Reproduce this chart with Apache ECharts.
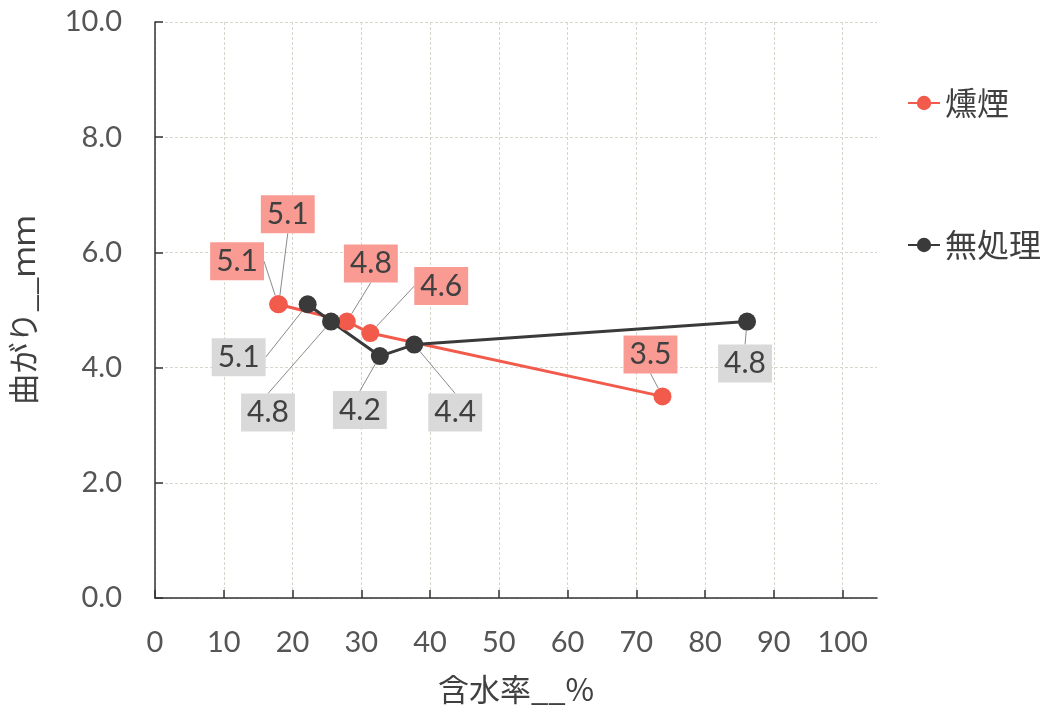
<!DOCTYPE html>
<html><head><meta charset="utf-8">
<script src="https://cdn.jsdelivr.net/npm/echarts@6/dist/echarts.min.js"></script>
<style>html,body{margin:0;padding:0;background:#fff}#c{width:1048px;height:718px}</style>
</head><body><div id="c"></div>
<script>
// data
const seriesNames = ['燻煙', '無処理'];
const smokedX = [17.9, 18.0, 27.9, 31.3, 73.8];
const smokedY = [5.1, 5.1, 4.8, 4.6, 3.5];
const untreatedX = [22.2, 25.6, 32.7, 37.7, 86.1];
const untreatedY = [5.1, 4.8, 4.2, 4.4, 4.8];
const xTicks = [0, 10, 20, 30, 40, 50, 60, 70, 80, 90, 100];
const xName = '含水率__%';
const yName = '曲がり__ｍｍ';

// label placement (pixel offsets from each point)
const smokedOffsets = [[-41, -43], [9, -90], [24, -58], [71, -47], [-12, -42]];
const untreatedOffsets = [[-69, 53], [-63, 91], [-20, 54], [41, 68], [-2, 42]];

const pair = (xs, ys) => xs.map((x, i) => [x, ys[i]]);
const chart = echarts.init(document.getElementById('c'));
const font = '"Liberation Sans Narrow", Lato, "Noto Sans CJK JP", sans-serif';
const cjk = '"Noto Sans CJK JP", sans-serif';

function mkSeries(name, xs, ys, color, bg, offsets) {
  return {
    name, type: 'line', data: pair(xs, ys),
    symbol: 'circle', symbolSize: 18,
    lineStyle: { color, width: 3 },
    itemStyle: { color },
    label: {
      show: true, position: 'inside',
      formatter: p => p.value[1].toFixed(1),
      backgroundColor: bg, color: '#404040',
      fontSize: 30, fontFamily: 'Lato, sans-serif', padding: [5, 6, 3, 6]
    },
    labelLine: { show: true, lineStyle: { color: '#8a8a8a', width: 1 } },
    labelLayout: p => ({ dx: offsets[p.dataIndex][0], dy: offsets[p.dataIndex][1] }),
    z: 3
  };
}

chart.setOption({
  backgroundColor: '#fff',
  animation: false,
  grid: { left: 155, top: 22, right: 171, bottom: 120, containLabel: false, outerBoundsMode: 'none' },
  legend: {
    orient: 'vertical', left: 902, top: 82, itemGap: 110,
    itemWidth: 32, itemHeight: 18,
    textStyle: { fontSize: 32, color: '#404040', fontFamily: cjk },
    data: seriesNames
  },
  xAxis: {
    type: 'value', min: 0, max: 105, interval: 10,
    name: xName, nameLocation: 'middle', nameGap: 76,
    nameTextStyle: { fontSize: 31, color: '#404040', fontFamily: cjk },
    axisLine: { show: true, lineStyle: { color: '#333', width: 1.5 } },
    axisTick: { show: true, inside: true, length: 8, customValues: xTicks, lineStyle: { color: '#333', width: 1.5 } },
    axisLabel: { customValues: xTicks, fontSize: 29, color: '#555', fontFamily: font, margin: 30 },
    splitLine: { show: true, lineStyle: { color: '#d6d6cc', type: [3, 2], width: 1 } }
  },
  yAxis: {
    type: 'value', min: 0, max: 10, interval: 2,
    name: yName, nameLocation: 'middle', nameGap: 116, nameRotate: 90,
    nameTextStyle: { fontSize: 31, color: '#404040', fontFamily: cjk },
    axisLine: { show: true, lineStyle: { color: '#333', width: 1.5 } },
    axisTick: { show: true, inside: true, length: 8, lineStyle: { color: '#333', width: 1.5 } },
    axisLabel: { formatter: v => v.toFixed(1), fontSize: 29, color: '#555', fontFamily: 'Lato, sans-serif', margin: 33 },
    splitLine: { show: true, lineStyle: { color: '#d6d6cc', type: [3, 2], width: 1 } }
  },
  series: [
    mkSeries(seriesNames[0], smokedX, smokedY, '#f25a4c', '#f99b93', smokedOffsets),
    mkSeries(seriesNames[1], untreatedX, untreatedY, '#3a3a3a', '#d9d9d9', untreatedOffsets)
  ]
});
</script></body></html>
